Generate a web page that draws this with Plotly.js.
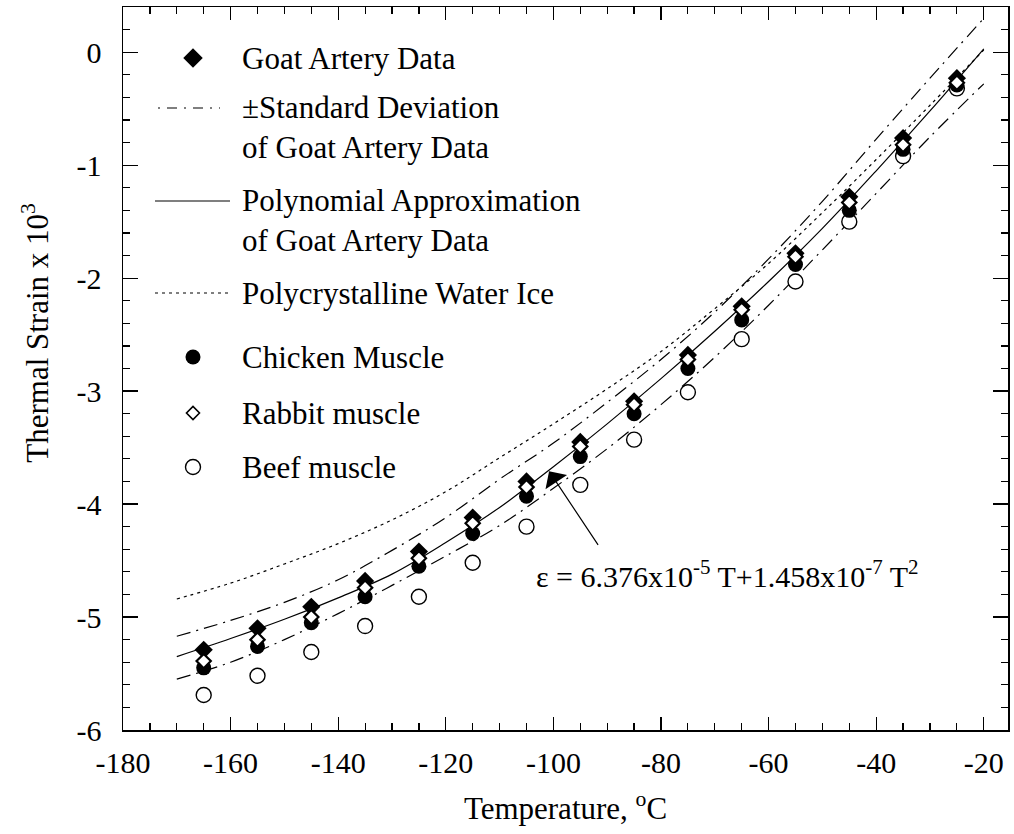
<!DOCTYPE html>
<html>
<head>
<meta charset="utf-8">
<script src="https://cdn.plot.ly/plotly-3.0.1.min.js"></script>
<style>
  html, body { margin: 0; padding: 0; background: #fff; }
  #chart { width: 1014px; height: 834px; }
</style>
</head>
<body>
<div id="chart"></div>
<script>
// ---- data ----
const temps = [-165, -155, -145, -135, -125, -115, -105, -95, -85, -75, -65, -55, -45, -35, -25];
const goatArtery = [-5.29, -5.10, -4.91, -4.68, -4.42, -4.12, -3.80, -3.45, -3.09, -2.68, -2.25, -1.78, -1.28, -0.76, -0.23];
const rabbitMuscle = [-5.39, -5.20, -5.00, -4.74, -4.48, -4.17, -3.85, -3.49, -3.12, -2.72, -2.28, -1.81, -1.33, -0.82, -0.27];
const chickenMuscle = [-5.45, -5.26, -5.05, -4.82, -4.55, -4.26, -3.93, -3.58, -3.20, -2.80, -2.37, -1.88, -1.40, -0.86, -0.29];
const beefMuscle = [-5.69, -5.52, -5.31, -5.08, -4.82, -4.52, -4.20, -3.83, -3.43, -3.01, -2.54, -2.03, -1.50, -0.92, -0.32];

const curveT = [-170, -160, -150, -140, -130, -120, -110, -100, -90, -80, -70, -60, -50, -40, -30, -20];
const polyFit = [-5.35, -5.19, -5.02, -4.83, -4.62, -4.34, -4.03, -3.67, -3.29, -2.89, -2.47, -2.03, -1.56, -1.05, -0.52, 0.03];
const sdUpper = [-5.17, -5.03, -4.87, -4.67, -4.41, -4.12, -3.78, -3.46, -3.10, -2.72, -2.30, -1.83, -1.32, -0.77, -0.23, 0.30];
const sdLower = [-5.55, -5.40, -5.20, -4.97, -4.72, -4.46, -4.19, -3.86, -3.51, -3.12, -2.70, -2.24, -1.75, -1.25, -0.75, -0.28];
const waterIce = [-4.84, -4.70, -4.53, -4.35, -4.14, -3.89, -3.59, -3.29, -2.98, -2.65, -2.27, -1.87, -1.42, -0.95, -0.47, 0.02];

const xTickVals = [-180, -160, -140, -120, -100, -80, -60, -40, -20];
const xTickText = ['-180', '-160', '-140', '-120', '-100', '-80', '-60', '-40', '-20'];
const yTickVals = [0, -1, -2, -3, -4, -5, -6];
const yTickText = ['0', '-1', '-2', '-3', '-4', '-5', '-6'];

const legendLabels = [
  'Goat Artery Data',
  '\u00B1Standard Deviation<br>of Goat Artery Data',
  'Polynomial Approximation<br>of Goat Artery Data',
  'Polycrystalline Water Ice',
  'Chicken Muscle',
  'Rabbit muscle',
  'Beef muscle'
];
const xTitle = 'Temperature, <sup>o</sup>C';
const yTitle = 'Thermal Strain x 10<sup>3</sup>';
const equationText = '\u03B5 = 6.376x10<sup>-5</sup> T+1.458x10<sup>-7</sup> T<sup>2</sup>';

// ---- styles ----
const FONT = '"Liberation Serif", "Times New Roman", Times, serif';
const INK = '#000';
const LINE_W = 1.2;
const DASHDOT = '14px,6px,2px,6px';
const DOTTED = '3px,4px';

const traces = [];

// curves
traces.push({x: curveT, y: waterIce, mode: 'lines', line: {color: INK, width: LINE_W, dash: DOTTED, shape: 'spline'}, showlegend: false, hoverinfo: 'skip'});
traces.push({x: curveT, y: sdUpper, mode: 'lines', line: {color: INK, width: LINE_W, dash: DASHDOT, shape: 'spline'}, showlegend: false, hoverinfo: 'skip'});
traces.push({x: curveT, y: sdLower, mode: 'lines', line: {color: INK, width: LINE_W, dash: DASHDOT, shape: 'spline'}, showlegend: false, hoverinfo: 'skip'});
traces.push({x: curveT, y: polyFit, mode: 'lines', line: {color: INK, width: LINE_W, shape: 'spline'}, showlegend: false, hoverinfo: 'skip'});

// markers
const mkBeef = {symbol: 'circle', size: 15, color: '#fff', line: {color: INK, width: 1.4}};
const mkGoat = {symbol: 'diamond', size: 14, color: INK, line: {color: INK, width: 0}};
const mkChicken = {symbol: 'circle', size: 15, color: INK, line: {color: INK, width: 0}};
const mkRabbit = {symbol: 'diamond', size: 11, color: '#fff', line: {color: INK, width: 2.2}};

traces.push({x: temps, y: beefMuscle, mode: 'markers', marker: mkBeef, showlegend: false, cliponaxis: false});
traces.push({x: temps, y: goatArtery, mode: 'markers', marker: mkGoat, showlegend: false, cliponaxis: false});
traces.push({x: temps, y: chickenMuscle, mode: 'markers', marker: mkChicken, showlegend: false, cliponaxis: false});
traces.push({x: temps, y: rabbitMuscle, mode: 'markers', marker: mkRabbit, showlegend: false, cliponaxis: false});

// ---- hand-drawn legend on an overlay axis in pixel units ----
const legX = 193, legLine = [155, 230], legDash = [158, 220], legText = 240;
const legRows = [58, 108, 201, 293, 357, 413, 467];
const legTextY = [58, 127, 220, 293, 357, 413, 467];
const lgBase = {xaxis: 'x2', yaxis: 'y2', showlegend: false, hoverinfo: 'skip', cliponaxis: false};
traces.push(Object.assign({x: [legX], y: [legRows[0]], mode: 'markers', marker: Object.assign({}, mkGoat, {size: 15})}, lgBase));
traces.push(Object.assign({x: legDash, y: [legRows[1], legRows[1]], mode: 'lines', line: {color: INK, width: LINE_W, dash: '2px,7px,10px,7px'}}, lgBase));
traces.push(Object.assign({x: legLine, y: [legRows[2], legRows[2]], mode: 'lines', line: {color: INK, width: LINE_W}}, lgBase));
traces.push(Object.assign({x: legLine, y: [legRows[3], legRows[3]], mode: 'lines', line: {color: INK, width: LINE_W, dash: DOTTED}}, lgBase));
traces.push(Object.assign({x: [legX], y: [legRows[4]], mode: 'markers', marker: mkChicken}, lgBase));
traces.push(Object.assign({x: [legX], y: [legRows[5]], mode: 'markers', marker: Object.assign({}, mkRabbit, {size: 10, line: {color: INK, width: 1.6}})}, lgBase));
traces.push(Object.assign({x: [legX], y: [legRows[6]], mode: 'markers', marker: mkBeef}, lgBase));

const annotations = legendLabels.map((t, i) => ({
  xref: 'x2', yref: 'y2', x: legText, y: legTextY[i], xanchor: 'left', yanchor: 'middle',
  text: t, showarrow: false, align: 'left', font: {family: FONT, size: 31, color: INK}
}));

// equation + arrow
annotations.push({
  xref: 'x', yref: 'y', x: -103.6, y: -4.62, xanchor: 'left', yanchor: 'middle',
  text: equationText, showarrow: false, font: {family: FONT, size: 30, color: INK}
});
annotations.push({
  xref: 'x', yref: 'y', x: -100.8, y: -3.71, ax: 50, ay: 75, text: '',
  showarrow: true, arrowhead: 1, arrowsize: 3.6, arrowwidth: 1.2, arrowcolor: INK, standoff: 0
});
// y-axis title
annotations.push({
  xref: 'paper', yref: 'paper', x: -0.099, y: 0.55, xanchor: 'center', yanchor: 'middle',
  textangle: -90, text: yTitle, showarrow: false, font: {family: FONT, size: 31, color: INK}
});

const axisCommon = {
  showline: true, linecolor: INK, linewidth: 1.5, mirror: 'allticks',
  ticks: 'inside', tickcolor: INK, tickwidth: 1.2,
  showgrid: false, zeroline: false,
  tickmode: 'array',
  tickfont: {family: FONT, size: 30, color: INK}
};

const layout = {
  width: 1014, height: 834,
  margin: {l: 123, r: 6, t: 7, b: 104, pad: 0},
  paper_bgcolor: '#fff', plot_bgcolor: '#fff',
  showlegend: false,
  font: {family: FONT, color: INK},
  xaxis: Object.assign({}, axisCommon, {
    range: [-180, -15.5], tickvals: xTickVals, ticktext: xTickText, ticklen: 13,
    ticklabelstandoff: 5,
    minor: {ticks: 'inside', ticklen: 7, tick0: -180, dtick: 5, tickcolor: INK, tickwidth: 1.2, showgrid: false},
    title: {text: xTitle, font: {family: FONT, size: 31, color: INK}, standoff: 20}
  }),
  yaxis: Object.assign({}, axisCommon, {
    range: [-6, 0.4], tickvals: yTickVals, ticktext: yTickText, ticklen: 15,
    ticklabelstandoff: 14,
    minor: {ticks: 'inside', ticklen: 7, tick0: 0, dtick: 0.2, tickcolor: INK, tickwidth: 1.2, showgrid: false}
  }),
  xaxis2: {overlaying: 'x', range: [123, 1008], visible: false, fixedrange: true},
  yaxis2: {overlaying: 'y', range: [730, 7], visible: false, fixedrange: true},
  annotations: annotations
};

Plotly.newPlot('chart', traces, layout, {staticPlot: true, displayModeBar: false});
</script>
</body>
</html>
